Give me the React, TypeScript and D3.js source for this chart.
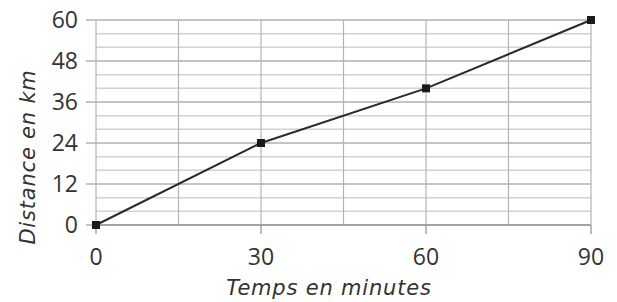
import * as d3 from 'd3';

const times = [0, 30, 60, 90];
const distances = [0, 24, 40, 60];
const xTicks = [0, 30, 60, 90];
const yTicks = [0, 12, 24, 36, 48, 60];
const xGrid = [0, 15, 30, 45, 60, 75, 90];
const yMinorGrid = [4, 8, 16, 20, 28, 32, 40, 44, 52, 56];

const WIDTH = 617;
const HEIGHT = 302;
const MARGIN = { top: 20, right: 26, bottom: 77, left: 96 };

const App = () => {
  const x = d3.scaleLinear().domain([0, 90]).range([MARGIN.left, WIDTH - MARGIN.right]);
  const y = d3.scaleLinear().domain([0, 60]).range([HEIGHT - MARGIN.bottom, MARGIN.top]);

  const line = d3
    .line<number>()
    .x((_, i) => x(times[i]))
    .y(d => y(d));

  const font = '"Open Sans", sans-serif';
  const titleFont = '"DejaVu Sans", sans-serif';

  return (
    <svg width={WIDTH} height={HEIGHT} style={{ position: 'absolute', left: 0, top: 0, background: '#fff' }}>
      {/* minor horizontal grid */}
      {yMinorGrid.map(v => (
        <line key={`my${v}`} x1={x(0)} x2={x(90)} y1={y(v)} y2={y(v)} stroke="#d2d2d2" strokeWidth={1.5} />
      ))}
      {/* vertical grid */}
      {xGrid.map(v => (
        <line key={`gx${v}`} x1={x(v)} x2={x(v)} y1={y(0)} y2={y(60)} stroke="#b4b4b4" strokeWidth={1.2} />
      ))}
      {/* major horizontal grid + ticks */}
      {yTicks.map(v => (
        <line key={`gy${v}`} x1={x(0) - 10} x2={x(90)} y1={y(v)} y2={y(v)} stroke="#b0b0b0" strokeWidth={1.6} />
      ))}
      {xTicks.map(v => (
        <line key={`tx${v}`} x1={x(v)} x2={x(v)} y1={y(0)} y2={y(0) + 9} stroke="#a0a0a0" strokeWidth={1.4} />
      ))}
      <line x1={x(0)} x2={x(90)} y1={y(0)} y2={y(0)} stroke="#999" strokeWidth={1.4} />

      <path d={line(distances) ?? ''} fill="none" stroke="#2a2a2a" strokeWidth={2} />
      {distances.map((d, i) => (
        <rect key={`p${i}`} x={x(times[i]) - 4} y={y(d) - 4} width={8} height={8} fill="#1a1a1a" />
      ))}

      {yTicks.map(v => (
        <text
          key={`ly${v}`}
          x={x(0) - 18}
          y={y(v)}
          dy="0.36em"
          textAnchor="end"
          fontFamily={font}
          fontSize={23}
          fill="#333"
        >
          {v}
        </text>
      ))}
      {xTicks.map(v => (
        <text
          key={`lx${v}`}
          x={x(v)}
          y={y(0) + 40}
          textAnchor="middle"
          fontFamily={font}
          fontSize={23}
          fill="#333"
        >
          {v}
        </text>
      ))}

      <text
        x={329}
        y={295}
        textAnchor="middle"
        fontFamily={titleFont}
        fontStyle="italic"
        fontSize={21}
        letterSpacing={0.8}
        fill="#333"
      >
        Temps en minutes
      </text>
      <text
        transform={`translate(35, 157) rotate(-90)`}
        textAnchor="middle"
        fontFamily={titleFont}
        fontStyle="italic"
        fontSize={21}
        letterSpacing={0.8}
        fill="#333"
      >
        Distance en km
      </text>
    </svg>
  );
};

export default App;
